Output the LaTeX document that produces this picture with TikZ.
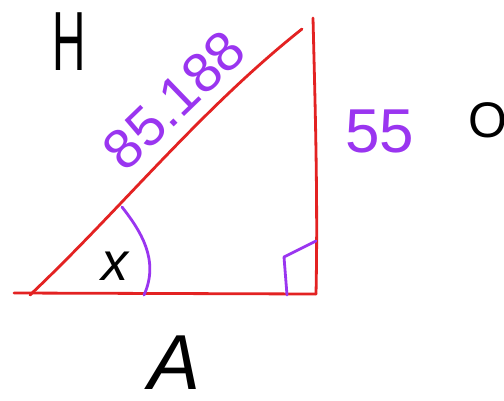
\documentclass[tikz,border=0pt]{standalone}
\usepackage{fontspec}
\setmainfont{Liberation Sans}
\definecolor{redline}{HTML}{E32222}
\definecolor{purp}{HTML}{9A35F0}
\begin{document}
\begin{tikzpicture}[x=1pt,y=-1pt,
  side/.style={draw=redline,line width=2.8pt,line cap=round,line join=round},
  anglemark/.style={draw=purp,line width=2.8pt,line cap=round,line join=round},
  blk/.style={text=black,inner sep=0pt},
  pur/.style={text=purp,inner sep=0pt}]
\useasboundingbox (0,0) rectangle (504,400);
\fill[white] (0,0) rectangle (504,400);
% vertices
\coordinate (L) at (30,295);
\coordinate (R) at (316,294);
\coordinate (T) at (302,29);
\coordinate (V) at (313,18);
\coordinate (E) at (14,293);
% triangle
\draw[side] (E) -- (R);
\draw[side] (L) .. controls (120,210) and (200,110) .. (T);
\draw[side] (V) .. controls (315,100) and (318,200) .. (R);
% angle arc
\coordinate (a1) at (122,207);
\coordinate (a2) at (144,295);
\draw[anglemark] (a1) .. controls (140,230) and (160,260) .. (a2);
% right angle mark
\coordinate (r1) at (287,295);
\coordinate (r2) at (284,257);
\coordinate (r3) at (316,241);
\draw[anglemark] (r1) -- (r2) -- (r3);
% labels
\node[blk,font=\fontsize{84}{84}\selectfont,xscale=0.55] (H) at (69,42) {H};
\node[pur,font=\fontsize{56}{56}\selectfont,rotate=44] (hyp) at (174,100) {85.188};
\node[pur,font=\fontsize{62}{62}\selectfont] (opp) at (380,131) {55};
\node[blk,font=\fontsize{50}{50}\selectfont] (O) at (488,120) {O};
\node[blk,font=\fontsize{54}{54}\selectfont\itshape] (xx) at (115,266) {x};
\node[blk,font=\fontsize{78}{78}\selectfont\itshape] (A) at (175,363) {A};
\end{tikzpicture}
\end{document}
